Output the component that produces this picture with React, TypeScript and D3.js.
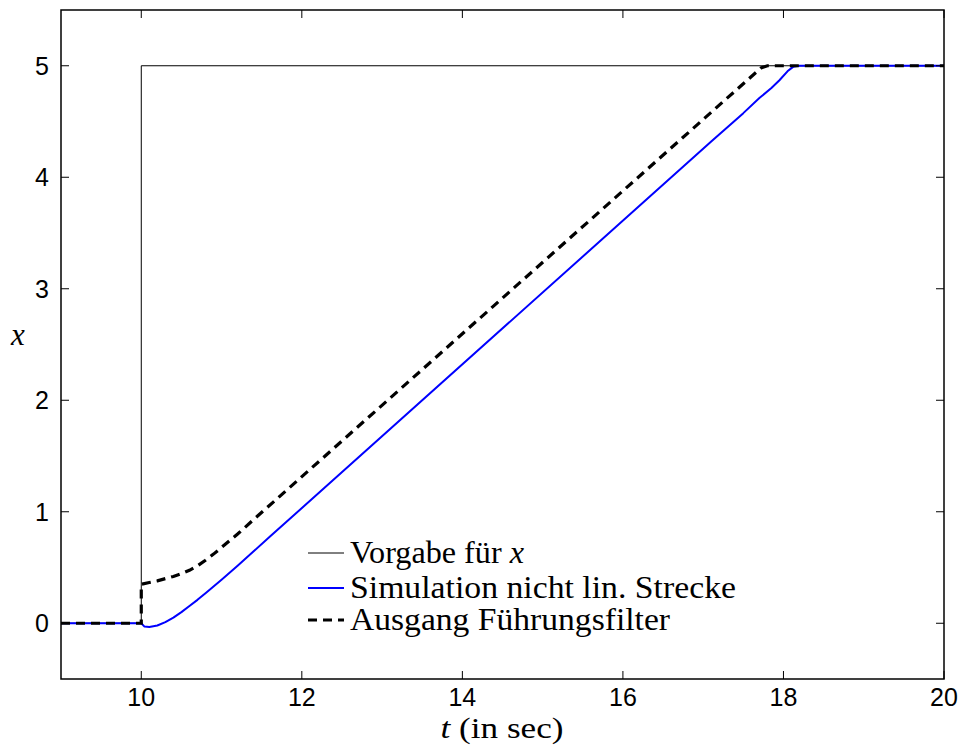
import React from "react";
import * as d3 from "d3";

const refT = [9, 10, 10, 20];
const refX = [0, 0, 5, 5];

const simT = [9, 10, 10.04, 10.1, 10.2, 10.3, 10.4, 10.5, 10.6, 10.7, 10.8, 10.9, 11.0, 11.2, 11.4, 11.6, 17.1, 17.5, 17.7, 17.85, 17.95, 18.05, 18.12, 18.2, 18.3, 20];
const simX = [0, 0, -0.03, -0.033, -0.02, 0.01, 0.05, 0.1, 0.155, 0.21, 0.27, 0.33, 0.39, 0.515, 0.645, 0.775, 4.32, 4.575, 4.71, 4.8, 4.87, 4.95, 4.99, 5.0, 5.0, 5.0];

const filtT = [9, 10, 10, 10.1, 10.2, 10.3, 10.4, 10.5, 10.6, 10.7, 10.8, 10.9, 11.0, 11.2, 11.4, 17.72, 17.8, 20];
const filtX = [0, 0, 0.35, 0.365, 0.38, 0.4, 0.42, 0.445, 0.475, 0.515, 0.565, 0.62, 0.68, 0.8, 0.93, 4.98, 5.0, 5.0];

const xTicks = [10, 12, 14, 16, 18, 20];
const yTicks = [0, 1, 2, 3, 4, 5];

const legendLabels = ["Vorgabe für ", "Simulation nicht lin. Strecke", "Ausgang Führungsfilter"];

const W = 965;
const H = 749;
const M = { left: 61, right: 944, top: 10, bottom: 679 };

export default function App() {
  const x = d3.scaleLinear().domain([9, 20]).range([M.left, M.right]);
  const y = d3.scaleLinear().domain([-0.5, 5.5]).range([M.bottom, M.top]);
  const line = d3
    .line<[number, number]>()
    .x((d) => x(d[0]))
    .y((d) => y(d[1]));
  const mk = (ts: number[], vs: number[]) => ts.map((t, i) => [t, vs[i]] as [number, number]);
  const tick = 8;
  const sans = "'Liberation Sans', Arial, sans-serif";
  const serif = "'Liberation Serif', 'DejaVu Serif', serif";

  const legY = [553, 588, 620];
  return (
    <svg width={W} height={H} style={{ position: "absolute", left: 0, top: 0, background: "#fff" }}>
      <rect x={0} y={0} width={W} height={H} fill="#fff" />
      <defs>
        <clipPath id="plot">
          <rect x={M.left} y={M.top} width={M.right - M.left} height={M.bottom - M.top} />
        </clipPath>
      </defs>
      <g clipPath="url(#plot)">
        <path d={line(mk(refT, refX)) || ""} fill="none" stroke="#000" strokeWidth={1} />
        <path d={line(mk(simT, simX)) || ""} fill="none" stroke="#0000ff" strokeWidth={2} strokeLinejoin="round" />
        <path d={line(mk(filtT, filtX)) || ""} fill="none" stroke="#000" strokeWidth={3.2} strokeDasharray="9,6" />
      </g>
      {xTicks.map((t) => (
        <g key={"xt" + t}>
          <line x1={x(t)} x2={x(t)} y1={M.bottom} y2={M.bottom - tick} stroke="#000" strokeWidth={1} />
          <line x1={x(t)} x2={x(t)} y1={M.top} y2={M.top + tick} stroke="#000" strokeWidth={1} />
          <text x={x(t)} y={706} textAnchor="middle" fontFamily={sans} fontSize={25} fill="#000">
            {t}
          </text>
        </g>
      ))}
      {yTicks.map((v) => (
        <g key={"yt" + v}>
          <line x1={M.left} x2={M.left + tick} y1={y(v)} y2={y(v)} stroke="#000" strokeWidth={1} />
          <line x1={M.right} x2={M.right - tick} y1={y(v)} y2={y(v)} stroke="#000" strokeWidth={1} />
          <text x={M.left - 12} y={y(v) + 9} textAnchor="end" fontFamily={sans} fontSize={25} fill="#000">
            {v}
          </text>
        </g>
      ))}
      <rect x={M.left} y={M.top} width={M.right - M.left} height={M.bottom - M.top} fill="none" stroke="#000" strokeWidth={1.5} />
      <text x={502} y={738} textAnchor="middle" fontFamily={serif} fontSize={29} fill="#000" textLength={123} lengthAdjust="spacingAndGlyphs">
        <tspan fontStyle="italic">t</tspan> (in sec)
      </text>
      <text x={18} y={345} textAnchor="middle" fontFamily={serif} fontSize={31} fontStyle="italic" fill="#000">
        x
      </text>
      <line x1={308} x2={344} y1={legY[0]} y2={legY[0]} stroke="#000" strokeWidth={1} />
      <line x1={308} x2={344} y1={legY[1]} y2={legY[1]} stroke="#0000ff" strokeWidth={2} />
      <line x1={308} x2={344} y1={legY[2]} y2={legY[2]} stroke="#000" strokeWidth={3.2} strokeDasharray="9,6" />
      <text x={350} y={legY[0] + 10} fontFamily={serif} fontSize={31} fill="#000" textLength={174} lengthAdjust="spacingAndGlyphs">
        {legendLabels[0]}
        <tspan fontStyle="italic">x</tspan>
      </text>
      <text x={350} y={legY[1] + 10} fontFamily={serif} fontSize={31} fill="#000" textLength={386} lengthAdjust="spacingAndGlyphs">
        {legendLabels[1]}
      </text>
      <text x={350} y={legY[2] + 10} fontFamily={serif} fontSize={31} fill="#000" textLength={320} lengthAdjust="spacingAndGlyphs">
        {legendLabels[2]}
      </text>
    </svg>
  );
}
